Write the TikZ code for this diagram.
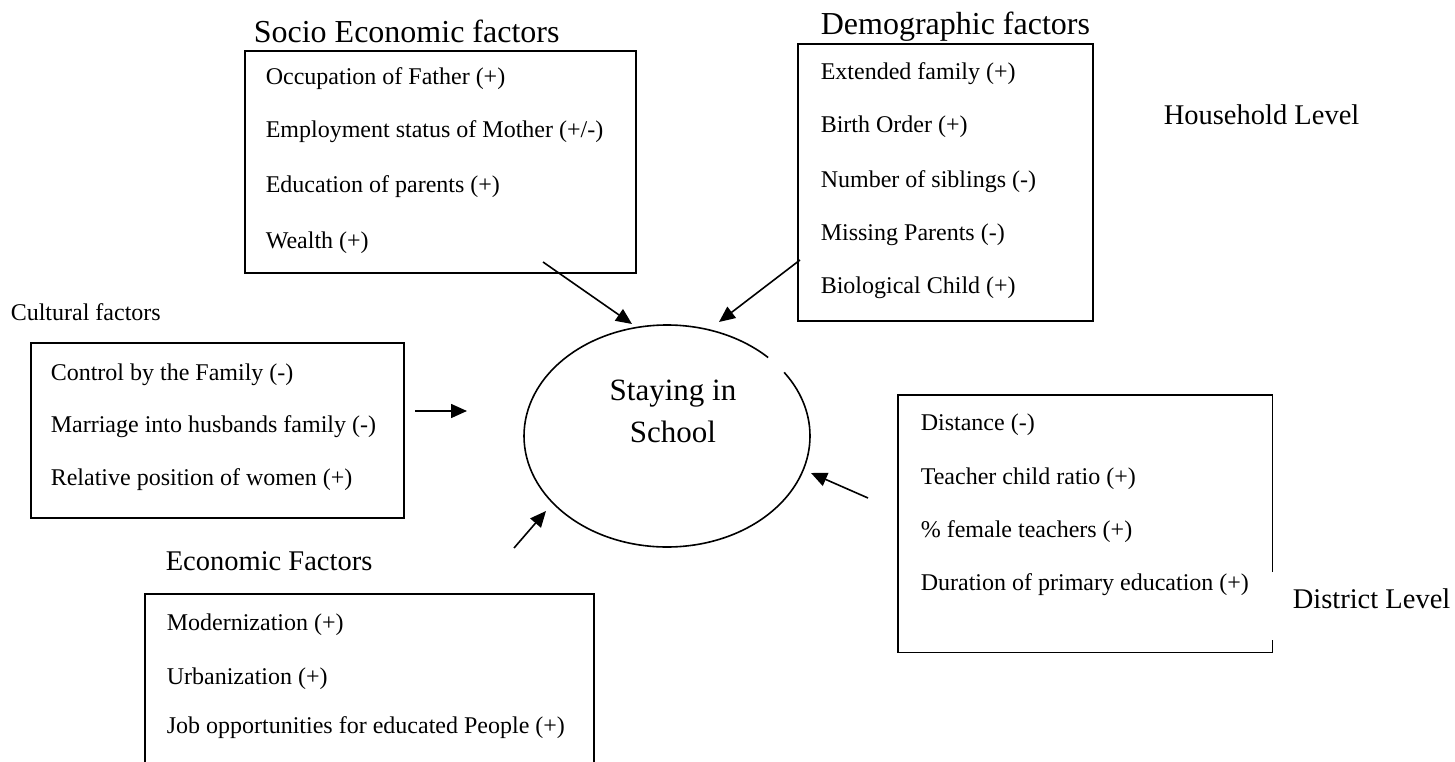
\documentclass[tikz,border=0pt]{standalone}
\usepackage{fontspec}
\setmainfont{Liberation Serif}
\usetikzlibrary{arrows.meta,positioning}

\begin{document}
\begin{tikzpicture}[x=1pt,y=-1pt,line width=1.6pt]
\tikzset{
  every node/.style={inner sep=0pt},
  item/.style={anchor=base west,font=\fontsize{24}{28}\selectfont},
  head/.style={anchor=base west,font=\fontsize{32}{36}\selectfont},
  level/.style={anchor=base west,font=\fontsize{28.5}{32}\selectfont},
  factorbox/.style={draw,anchor=north west},
  arr/.style={-{Triangle[length=16pt,width=14pt]}}
}
\useasboundingbox (0,0) rectangle (1455,762);

% socio economic factors
\node[head] (sehead) at (253,43) {Socio Economic factors};
\node[factorbox,minimum width=391pt,minimum height=222pt] (se) at (244,50) {};
\node[item] (se1) at (265,85) {Occupation of Father (+)};
\node[item] (se2) at (265,138) {Employment status of Mother (+/-)};
\node[item] (se3) at (265,193) {Education of parents (+)};
\node[item] (se4) at (265,248) {Wealth (+)};

% demographic factors
\node[head] (dghead) at (820,35) {Demographic factors};
\node[factorbox,minimum width=295pt,minimum height=277pt] (dg) at (797,43) {};
\node[item] (dg1) at (820,80) {Extended family (+)};
\node[item] (dg2) at (820,133) {Birth Order (+)};
\node[item] (dg3) at (820,187) {Number of siblings (-)};
\node[item] (dg4) at (820,240) {Missing Parents (-)};
\node[item] (dg5) at (820,293) {Biological Child (+)};
\node[level] (hh) at (1163,125) {Household Level};

% cultural factors
\node[item] (cuhead) at (10,320) {Cultural factors};
\node[factorbox,minimum width=373pt,minimum height=175pt] (cu) at (30,342) {};
\node[item] (cu1) at (50,380) {Control by the Family (-)};
\node[item] (cu2) at (50,432) {Marriage into husbands family (-)};
\node[item] (cu3) at (50,485) {Relative position of women (+)};

% economic factors
\node[level] (echead) at (165,570) {Economic Factors};
\node[factorbox,minimum width=449pt,minimum height=185pt] (ec) at (144,593) {};
\node[item] (ec1) at (166,630) {Modernization (+)};
\node[item] (ec2) at (166,684) {Urbanization (+)};
\node[item] (ec3) at (166,733) {Job opportunities for educated People (+)};

% district level factors
\node[anchor=north west,minimum width=373pt,minimum height=256pt] (di) at (898,395) {};
\draw (di.east |- 0,572) -- (di.north east) -- (di.north west)
  -- (di.south west) -- (di.south east) -- (di.east |- 0,640);
\node[item] (di1) at (920,430) {Distance (-)};
\node[item] (di2) at (920,484) {Teacher child ratio (+)};
\node[item] (di3) at (920,537) {\% female teachers (+)};
\node[item] (di4) at (920,590) {Duration of primary education (+)};
\node[level] (dl) at (1292,608) {District Level};

% staying in school
\coordinate (stay) at (667,436);
\draw ([shift={(-45:143 and 111)}]stay)
  arc[start angle=-45,end angle=-395,x radius=143,y radius=111];
\node[anchor=base,font=\fontsize{31}{36}\selectfont] (st1) at (673,400) {Staying in};
\node[anchor=base,font=\fontsize{31}{36}\selectfont] (st2) at (673,442) {School};

% arrows
\coordinate (seout) at (543,262);
\coordinate (sein) at (632,324);
\coordinate (dgout) at (800,260);
\coordinate (dgin) at (719,322);
\coordinate (cuout) at (415,411);
\coordinate (cuin) at (467,411);
\coordinate (ecout) at (514,548);
\coordinate (ecin) at (546,511);
\coordinate (diout) at (868,498);
\coordinate (diin) at (811,473);
\draw[arr] (seout) -- (sein);
\draw[arr] (dgout) -- (dgin);
\draw[arr] (cuout) -- (cuin);
\draw[arr] (ecout) -- (ecin);
\draw[arr] (diout) -- (diin);
\end{tikzpicture}
\end{document}
